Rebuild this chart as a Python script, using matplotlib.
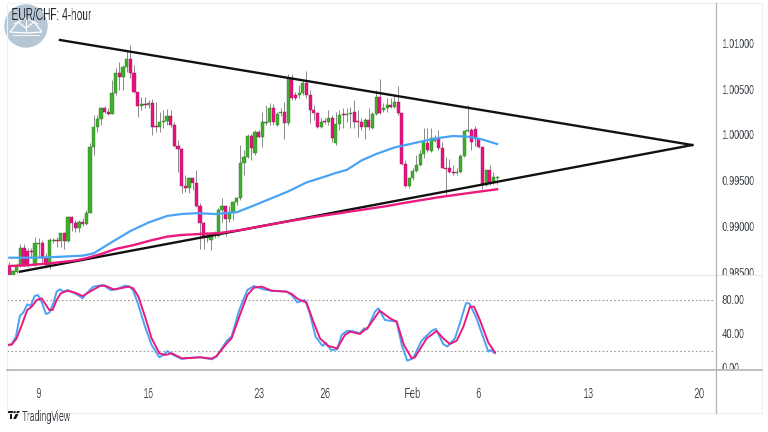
import matplotlib
matplotlib.use("Agg")
import matplotlib.pyplot as plt
from matplotlib.patches import Circle, Rectangle, Polygon
from matplotlib.transforms import Bbox
import numpy as np

# 4-hour candles
opens = [
    0.9858, 0.9848, 0.9851, 0.9858, 0.9877, 0.9874, 0.9874, 0.9859, 0.9882, 0.9883,
    0.9866, 0.9859, 0.9885, 0.9886, 0.9885, 0.9893, 0.9885, 0.9911, 0.9904, 0.9899,
    0.9905, 0.9903, 0.9915, 0.9987, 1.0009, 1.0017, 1.0029, 1.0025, 1.0023, 1.0046,
    1.0067, 1.0063, 1.0074, 1.0083, 1.0067, 1.0047, 1.0032, 1.0034, 1.0033, 1.0035,
    1.0010, 1.0009, 1.0014, 1.0015, 1.0021, 1.0011, 0.9988, 0.9985, 0.9945, 0.9942,
    0.9953, 0.9948, 0.9923, 0.9904, 0.9888, 0.9886, 0.9892, 0.9890, 0.9918, 0.9923,
    0.9909, 0.9916, 0.9927, 0.9932, 0.9970, 0.9976, 0.9999, 0.9980, 1.0003, 0.9998,
    1.0013, 1.0014, 1.0029, 1.0011, 1.0024, 1.0025, 1.0013, 1.0062, 1.0043, 1.0043,
    1.0046, 1.0057, 1.0043, 1.0027, 1.0024, 1.0009, 1.0015, 1.0014, 1.0018, 0.9991,
    1.0012, 1.0023, 1.0022, 1.0023, 1.0025, 1.0015, 1.0014, 1.0009, 1.0016, 1.0008,
    1.0023, 1.0041, 1.0027, 1.0029, 1.0033, 1.0030, 1.0036, 1.0024, 0.9968, 0.9945,
    0.9953, 0.9961, 0.9967, 0.9979, 0.9991, 0.9983, 0.9993, 0.9997, 0.9986, 0.9964,
    0.9964, 0.9960, 0.9959, 0.9960, 0.9977, 1.0004, 1.0005, 1.0007, 0.9996, 0.9987,
    0.9946, 0.9962, 0.9948, 0.9953,
]
closes = [
    0.9848, 0.9852, 0.9858, 0.9877, 0.9858, 0.9859, 0.9873, 0.9883, 0.9883, 0.9866,
    0.9859, 0.9886, 0.9886, 0.9885, 0.9893, 0.9885, 0.9911, 0.9904, 0.9899, 0.9905,
    0.9903, 0.9915, 0.9987, 1.0009, 1.0017, 1.0029, 1.0025, 1.0023, 1.0046, 1.0067,
    1.0063, 1.0074, 1.0083, 1.0067, 1.0047, 1.0032, 1.0034, 1.0033, 1.0035, 1.0009,
    1.0009, 1.0014, 1.0015, 1.0021, 1.0011, 0.9988, 0.9985, 0.9945, 0.9942, 0.9953,
    0.9948, 0.9923, 0.9904, 0.9888, 0.9889, 0.9892, 0.9890, 0.9918, 0.9923, 0.9909,
    0.9916, 0.9927, 0.9932, 0.9970, 0.9976, 0.9999, 0.9986, 1.0003, 0.9998, 1.0014,
    1.0014, 1.0029, 1.0014, 1.0023, 1.0025, 1.0013, 1.0062, 1.0040, 1.0040, 1.0046,
    1.0057, 1.0043, 1.0027, 1.0024, 1.0009, 1.0014, 1.0014, 1.0018, 0.9997, 1.0012,
    1.0022, 1.0022, 1.0023, 1.0024, 1.0014, 1.0014, 1.0009, 1.0016, 1.0009, 1.0023,
    1.0041, 1.0024, 1.0029, 1.0033, 1.0030, 1.0036, 1.0024, 0.9968, 0.9945, 0.9953,
    0.9961, 0.9967, 0.9979, 0.9992, 0.9984, 0.9997, 0.9997, 0.9986, 0.9964, 0.9963,
    0.9960, 0.9959, 0.9960, 0.9977, 1.0004, 1.0005, 0.9992, 0.9996, 0.9987, 0.9946,
    0.9962, 0.9948, 0.9954, 0.9954,
]
highs = [
    0.9862, 0.9853, 0.9861, 0.9882, 0.9882, 0.9877, 0.9877, 0.9889, 0.9888, 0.9886,
    0.9872, 0.9888, 0.9888, 0.9889, 0.9893, 0.9895, 0.9912, 0.9912, 0.9908, 0.9908,
    0.9910, 0.9918, 0.9991, 1.0022, 1.0022, 1.0030, 1.0032, 1.0029, 1.0060, 1.0073,
    1.0079, 1.0076, 1.0092, 1.0098, 1.0076, 1.0047, 1.0041, 1.0041, 1.0038, 1.0039,
    1.0036, 1.0025, 1.0027, 1.0028, 1.0027, 1.0014, 0.9995, 0.9986, 0.9957, 0.9954,
    0.9954, 0.9962, 0.9926, 0.9905, 0.9895, 0.9893, 0.9896, 0.9921, 0.9932, 0.9924,
    0.9923, 0.9928, 0.9933, 0.9989, 0.9984, 1.0001, 1.0001, 1.0005, 1.0005, 1.0025,
    1.0033, 1.0035, 1.0034, 1.0025, 1.0029, 1.0036, 1.0066, 1.0066, 1.0047, 1.0054,
    1.0060, 1.0070, 1.0049, 1.0033, 1.0025, 1.0018, 1.0018, 1.0027, 1.0022, 1.0025,
    1.0027, 1.0029, 1.0029, 1.0030, 1.0038, 1.0027, 1.0018, 1.0018, 1.0029, 1.0025,
    1.0049, 1.0061, 1.0035, 1.0040, 1.0040, 1.0043, 1.0053, 1.0024, 0.9973, 0.9953,
    0.9964, 0.9978, 0.9984, 1.0008, 1.0008, 1.0008, 1.0000, 1.0005, 0.9992, 0.9976,
    0.9974, 0.9967, 0.9964, 0.9979, 1.0005, 1.0033, 1.0008, 1.0010, 0.9997, 0.9987,
    0.9962, 0.9967, 0.9960, 0.9955,
]
lows = [
    0.9848, 0.9848, 0.9850, 0.9857, 0.9858, 0.9857, 0.9866, 0.9858, 0.9867, 0.9862,
    0.9855, 0.9854, 0.9883, 0.9878, 0.9878, 0.9876, 0.9884, 0.9896, 0.9895, 0.9895,
    0.9901, 0.9902, 0.9915, 0.9978, 1.0003, 1.0011, 1.0024, 1.0022, 1.0023, 1.0043,
    1.0049, 1.0049, 1.0068, 1.0062, 1.0046, 1.0020, 1.0027, 1.0029, 1.0029, 1.0000,
    1.0003, 1.0003, 1.0008, 1.0011, 1.0009, 0.9987, 0.9960, 0.9937, 0.9938, 0.9937,
    0.9940, 0.9922, 0.9876, 0.9876, 0.9884, 0.9875, 0.9888, 0.9889, 0.9905, 0.9890,
    0.9905, 0.9908, 0.9924, 0.9929, 0.9957, 0.9975, 0.9973, 0.9978, 0.9997, 0.9987,
    1.0011, 1.0011, 1.0011, 1.0010, 1.0021, 0.9996, 1.0011, 1.0038, 1.0038, 1.0040,
    1.0043, 1.0040, 1.0013, 1.0016, 1.0008, 1.0008, 1.0012, 1.0011, 0.9992, 0.9989,
    1.0005, 1.0008, 1.0014, 1.0008, 1.0008, 0.9998, 1.0005, 0.9996, 1.0005, 1.0007,
    1.0022, 1.0023, 1.0025, 1.0025, 1.0029, 1.0029, 1.0022, 0.9967, 0.9943, 0.9942,
    0.9951, 0.9960, 0.9966, 0.9975, 0.9982, 0.9982, 0.9992, 0.9984, 0.9964, 0.9935,
    0.9959, 0.9957, 0.9957, 0.9959, 0.9976, 1.0003, 0.9984, 0.9988, 0.9986, 0.9941,
    0.9945, 0.9946, 0.9947, 0.9947,
]

# moving averages
sma_blue_idx = [0, 7, 11, 20, 23, 27, 33, 38, 43, 47, 51, 56, 62, 66, 71, 76, 81, 86, 89, 92,
                96, 100, 105, 108, 113, 117, 121, 125, 129, 133]
sma_blue = [0.98666, 0.98666, 0.98671, 0.98688, 0.98714, 0.98812, 0.98956, 0.99049, 0.99120, 0.99141,
            0.99150, 0.99141, 0.99160, 0.99223, 0.99304, 0.99386, 0.99484, 0.99547, 0.99587, 0.99620,
            0.99723, 0.99793, 0.99864, 0.99891, 0.99935, 0.99967, 0.99989, 0.99982, 0.99951, 0.99902]
sma_pink_idx = [0, 5, 11, 18, 21, 25, 29, 34, 38, 43, 47, 52, 57, 63, 69, 77, 85, 93, 103, 108,
                117, 126, 133]
sma_pink = [0.98576, 0.98584, 0.98605, 0.98636, 0.98660, 0.98706, 0.98761, 0.98804, 0.98848, 0.98895,
            0.98913, 0.98924, 0.98933, 0.98967, 0.99011, 0.99068, 0.99120, 0.99168, 0.99228, 0.99264,
            0.99323, 0.99373, 0.99410]

# triangle trend lines
upper_idx = [13.8, 186.2]
upper_price = [1.01033, 0.99891]
lower_idx = [2.9, 186.2]
lower_price = [0.98514, 0.99891]

# stochastic
stoch_k_idx = [-0.7, 0.65, 1.8, 2.9, 3.8, 4.9, 5.8, 6.9, 7.8, 8.9, 10, 10.9, 12, 12.9, 13.8, 14.9,
               15.9, 17.9, 20, 20.9, 22.9, 25.6, 27.6, 29.3, 31.5, 32.9, 33.8, 35.2, 37, 38.8,
               40.9, 42, 43.1, 44.7, 47, 49.7, 52, 55.2, 56.5, 59.3, 60.6, 62.7, 64.9, 66.7, 69.3,
               71.5, 75.6, 77, 78.5, 80.6, 81.8, 83.5, 85.4, 86.3, 87.7, 89.4, 90.6, 92, 93.3, 95.6,
               96.7, 97.6, 99.7, 100.6, 102.4, 105.6, 107, 108.5, 110.1, 112.4, 115.1, 116.3, 118.3,
               119.4, 121.5, 122.7, 124.5, 125.4, 127.4, 128.8, 130.6, 131.2, 132.4]
stoch_k = [25.6, 27.9, 36.6, 61.5, 65, 74.9, 72.9, 84.7, 85.9, 76.8, 63.4, 65, 76.1, 89.9, 92.6, 89.9,
           91.8, 87.9, 82, 87.1, 95.8, 97.8, 91.8, 92.6, 97, 95.8, 91, 74.1, 48.4, 26.7,
           12.2, 14.9, 19.6, 14.9, 10.2, 11.8, 12.2, 9.8, 12.9, 31.9, 36.6, 68.2, 91.8, 96.6, 92.6,
           91, 89.9, 85.9, 77.2, 80, 66.2, 36.6, 25.6, 29.5, 20.8, 21.6, 38.6, 43.3, 43.3, 40.6,
           46.5, 45.3, 66.2, 70.1, 56.3, 54.4, 26.7, 8.2, 11, 31.9, 43.3, 45.7, 27.9,
           24.8, 34.6, 50.4, 76.1, 76.1, 58.3, 40.6, 18.9, 20.8, 16.9]
stoch_d_idx = [-0.7, 0.65, 2, 3.4, 4.9, 6.1, 7.5, 8.8, 10, 10.9, 11.8, 12.9, 14, 15.9, 17.9, 20, 22,
               24.7, 26.1, 28.4, 30.2, 32.5, 33.8, 35.2, 37, 38.8, 40.9, 42.5, 44.3, 47, 49.7, 52,
               55.2, 56.5, 59.3, 60.6, 62.7, 64.9, 66.7, 68.8, 71.5, 75.6, 77, 78.8, 81, 82.9, 84.7,
               86.9, 89.4, 91.5, 92.9, 95.6, 97.8, 101, 103.8, 105.6, 107.6, 109.7, 110.6, 113.8,
               116.5, 118.3, 120.1, 122, 123.8, 125.6, 126.7, 128.3, 130.6, 132.4]
stoch_d = [27.1, 27.1, 34.6, 50.4, 68.2, 72.1, 80, 82, 74.1, 68.2, 68.2, 80, 87.9, 91, 88.7, 84.7, 89.9,
           96.6, 97, 92.6, 93.8, 95.8, 93.8, 83.9, 60.3, 34.6, 16.9, 14.9, 16.9, 11, 11.4, 12.2,
           10.6, 13.7, 28.7, 34.6, 60.3, 85.9, 94.6, 95.8, 91, 89.9, 87.1, 80.8, 77.2, 54.4, 34.6,
           25.6, 22.8, 38.6, 42.5, 39.8, 47.7, 67.4, 58.3, 54.4, 26.7, 11, 12.2, 34.6,
           43.3, 34.6, 27.9, 31.9, 48.4, 72.1, 72.1, 56.3, 29.5, 18.1]

# axis labels
date_ticks = [8, 38, 68, 86, 110, 128, 158, 188]
date_labels = ["9", "16", "23", "26", "Feb", "6", "13", "20"]
price_ticks = [0.985, 0.99, 0.995, 1.0, 1.005, 1.01]
stoch_ticks = [0, 40, 80]

GREEN = "#3fae2a"
PINK = "#e8127f"
BLUE = "#4aa3f5"
MAGENTA = "#ec1a7d"
TEXT = "#3f444a"

plt.rcParams["font.family"] = ["Liberation Sans", "DejaVu Sans"]

W, H = 768, 432
fig = plt.figure(figsize=(W / 100, H / 100), dpi=100)


def narrow(factor, centered=False):
    # agg filter that condenses a text artist horizontally
    def apply(img, dpi):
        h, w = img.shape[:2]
        nw = max(1, int(round(w * factor)))
        edges = np.linspace(0, w, nw + 1).astype(int)
        out = np.stack([img[:, a:max(b, a + 1)].mean(axis=1) for a, b in zip(edges[:-1], edges[1:])], axis=1)
        ox = (w - nw) // 2 if centered else 0
        return out, ox, 0
    return apply


def panel(left, top, right, bottom):
    return fig.add_axes([left / W, 1 - bottom / H, (right - left) / W, (bottom - top) / H])


ax = panel(7, 3, 715, 275)
ax2 = panel(7, 275, 715, 369)

x = np.arange(len(opens))
o = np.array(opens)
c = np.array(closes)
up = c >= o

ax.vlines(x, lows, highs, color="#8a8a8a", lw=0.7, zorder=2)
ax.bar(x, np.abs(c - o), bottom=np.minimum(o, c), width=0.85,
       color=np.where(up, GREEN, PINK), edgecolor=np.where(up, "#2f7d2a", "#a5105e"),
       lw=0.3, zorder=3)
ax.plot(sma_blue_idx, sma_blue, color=BLUE, lw=1.6, zorder=4)
ax.plot(lower_idx, lower_price, color="#111111", lw=1.7, zorder=4)
ax.plot(upper_idx, upper_price, color="#111111", lw=1.7, zorder=4)
ax.plot(sma_pink_idx, sma_pink, color=MAGENTA, lw=1.7, zorder=5)

ax.set_xlim(-0.63, 192.4)
ax.set_ylim(0.98478, 1.01435)
ax.set_xticks([])

ax2.axhline(80, color="#9a9a9a", lw=0.8, ls=(0, (1.5, 2)))
ax2.axhline(20, color="#9a9a9a", lw=0.8, ls=(0, (1.5, 2)))
ax2.plot(stoch_k_idx, stoch_k, color=BLUE, lw=1.4, zorder=3)
ax2.plot(stoch_d_idx, stoch_d, color=MAGENTA, lw=1.4, zorder=4)
ax2.set_xlim(-0.63, 192.4)
ax2.set_ylim(-1.7, 109.6)
ax2.set_xticks(date_ticks)
ax2.set_xticklabels(date_labels)
ax2.tick_params(axis="x", length=0, pad=13, labelsize=11, labelcolor=TEXT)
for lbl in ax2.get_xticklabels():
    lbl.set_agg_filter(narrow(0.62, centered=True))

for a, ticks, labels in [
    (ax, price_ticks, [f"{t:.5f}" for t in price_ticks]),
    (ax2, stoch_ticks, [f"{t:.2f}" for t in stoch_ticks]),
]:
    a.yaxis.tick_right()
    a.set_yticks(ticks)
    a.set_yticklabels(labels)
    a.tick_params(axis="y", length=0, pad=4.5, labelsize=9.1, labelcolor=TEXT)
    for spine in a.spines.values():
        spine.set_visible(False)
    # bottom labels get cut off at the edge of their pane
    y0 = a.get_position().y0 * H
    y1 = a.get_position().y1 * H
    for lbl in a.get_yticklabels():
        lbl.set_clip_on(True)
        lbl.set_clip_box(Bbox([[700, y0], [W, y1]]))
        lbl.set_agg_filter(narrow(0.71))

# frame, dividers and overlays drawn in pixel space
chrome = fig.add_axes([0, 0, 1, 1], zorder=10)
chrome.set_xlim(0, W)
chrome.set_ylim(H, 0)
chrome.axis("off")
chrome.patch.set_alpha(0)

chrome.plot([6.5, 762, 762, 6.5, 6.5], [3, 3, 413, 413, 3], color="#efefef", lw=0.8)
chrome.plot([7, 762], [275, 275], color="#e6e6e6", lw=0.8)
chrome.plot([7, 762], [369.5, 369.5], color="#b3b3b3", lw=1.2)
chrome.plot([715.5, 715.5], [3, 413], color="#b3b3b3", lw=0.9)

# badge in the corner
chrome.add_patch(Circle((26, 26), 21, color="#b5c6d4", zorder=1))
chrome.add_patch(Polygon([[10, 32], [18, 22], [26, 28], [34, 22], [42, 32], [26, 33]],
                         closed=True, fc="none", ec="white", lw=0.9, zorder=2))
chrome.plot([26, 26], [19, 32], color="white", lw=0.7, zorder=2)
chrome.plot([14, 26, 38], [24, 18, 24], color="white", lw=0.7, zorder=2)
chrome.plot([13, 39], [34.5, 34.5], color="white", lw=0.8, alpha=0.8, zorder=2)
title = chrome.text(11, 15.5, "EUR/CHF: 4-hour", fontsize=12.5, color="#24282c",
                    va="center", ha="left", zorder=3)
title.set_agg_filter(narrow(0.58))

# TradingView mark
chrome.add_patch(Rectangle((7, 411), 6, 2.6, color="#131722", lw=0))
chrome.add_patch(Rectangle((9.5, 411), 2.6, 8, color="#131722", lw=0))
chrome.add_patch(Circle((14.6, 412.4), 1.3, color="#131722", lw=0))
chrome.add_patch(Polygon([[17, 411], [20, 411], [16, 419], [13.2, 419]], closed=True, color="#131722", lw=0))
brand = chrome.text(22, 416.5, "TradingView", fontsize=10, color="#33373e", va="center", ha="left")
brand.set_agg_filter(narrow(0.63))

fig.savefig("out.png", dpi=100)
